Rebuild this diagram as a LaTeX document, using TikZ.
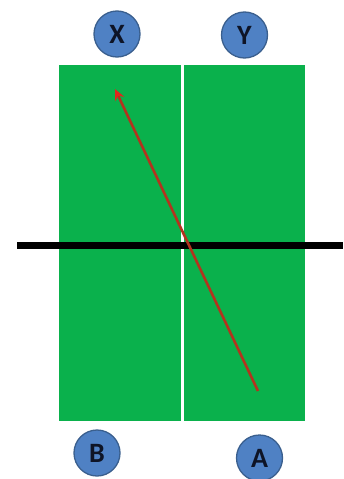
\documentclass[tikz,border=0pt]{standalone}
\usetikzlibrary{arrows.meta}
\usepackage{fontspec}
\setmainfont{Carlito}
\definecolor{fieldgreen}{HTML}{0AB14C}
\definecolor{ballblue}{HTML}{4F81C4}
\definecolor{balledge}{HTML}{3A5F8E}
\definecolor{arrowred}{HTML}{B2341E}
\definecolor{headred}{HTML}{E0261C}
\definecolor{lettercol}{HTML}{0E1426}
\begin{document}
\begin{tikzpicture}[x=1pt,y=-1pt,
  ball/.style={circle,draw=balledge,line width=1.3pt,fill=ballblue,minimum size=46pt,inner sep=0pt,font=\fontsize{28}{28}\selectfont\bfseries,text=lettercol}]
\useasboundingbox (0,0) rectangle (343,479);
\fill[fieldgreen] (59,65) rectangle (305,421);
\draw[white,line width=3pt] (182,65) -- (182,421);
\coordinate (L) at (17,245.5);
\coordinate (R) at (343,245.5);
\draw[black,line width=6.5pt] (L) -- (R);
\coordinate (S) at (258,391);
\coordinate (T) at (115,89);
\draw[arrowred,line width=2.6pt,-{Stealth[length=11pt,width=10pt,color=headred]}] (S) -- (T);
\node[ball] (X) at (117,34) {X};
\node[ball] (Y) at (244.5,35) {Y};
\node[ball] (B) at (97,453) {B};
\node[ball] (A) at (259.5,458) {A};
\end{tikzpicture}
\end{document}
